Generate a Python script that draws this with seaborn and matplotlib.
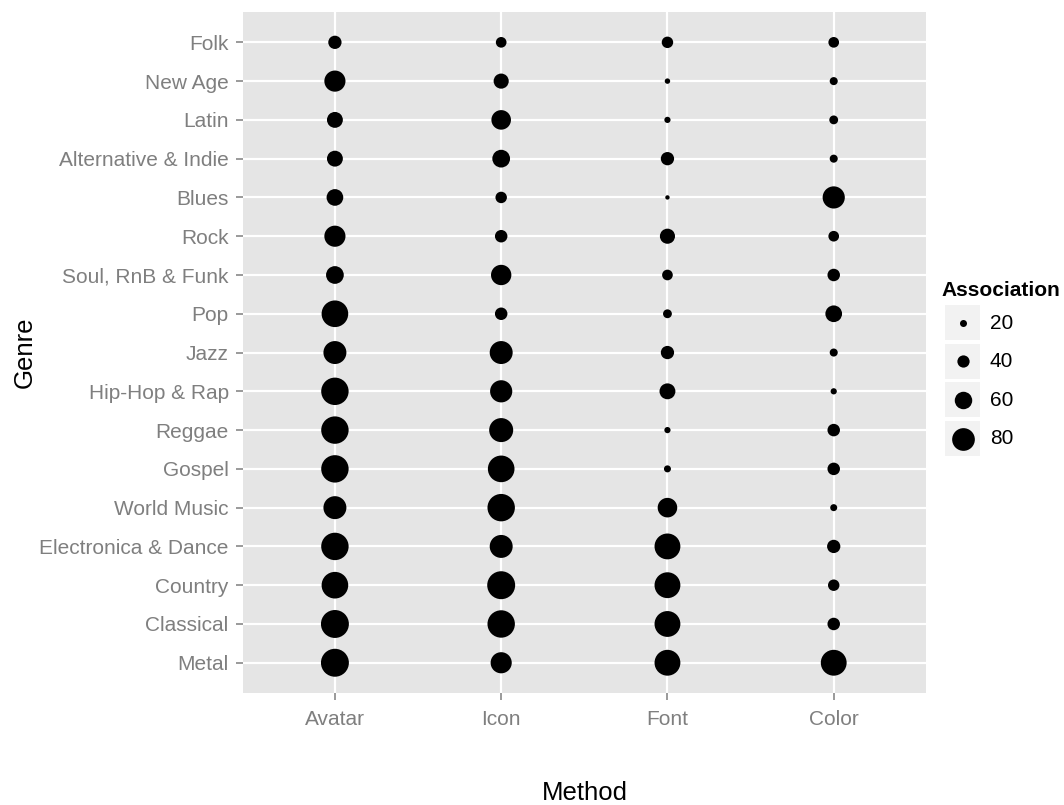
import numpy as np
import pandas as pd
import matplotlib
matplotlib.use("Agg")
import matplotlib.pyplot as plt
import seaborn as sns
from matplotlib.colors import FuncNorm
from matplotlib.patches import Rectangle

# ---------------- data ----------------
genres = ["Folk", "New Age", "Latin", "Alternative & Indie", "Blues", "Rock",
          "Soul, RnB & Funk", "Pop", "Jazz", "Hip-Hop & Rap", "Reggae", "Gospel",
          "World Music", "Electronica & Dance", "Country", "Classical", "Metal"]
methods = ["Avatar", "Icon", "Font", "Color"]
avatar = [44, 74, 54, 54, 57, 74, 61, 95, 81, 98, 98, 98, 81, 98, 95, 100, 100]
icon   = [34, 51, 68, 61, 37, 41, 71, 41, 81, 78, 85, 95, 98, 81, 100, 98, 74]
font   = [37, 14, 17, 44, 10, 51, 34, 27, 44, 54, 17, 20, 68, 92, 92, 92, 92]
color  = [34, 24, 27, 24, 78, 34, 41, 57, 24, 17, 41, 41, 20, 44, 37, 41, 92]
legend_breaks = [20, 40, 60, 80]

series = {"Avatar": avatar, "Icon": icon, "Font": font, "Color": color}
rows = []
for m in methods:
    for g, v in zip(genres, series[m]):
        rows.append({"Method": m, "Genre": g, "Association": v})
df = pd.DataFrame(rows)

# ---------------- style ----------------
plt.rcParams["font.family"] = ["Liberation Sans", "DejaVu Sans"]
TICK_GREY = "#7F7F7F"
PANEL = "#E5E5E5"

W, H = 1064, 805
fig = plt.figure(figsize=(W / 100, H / 100), dpi=100, facecolor="white")

# panel position in pixels
pl, pr, pt_, pb = 243.3, 926.0, 11.7, 693.0
ax = fig.add_axes([pl / W, 1 - pb / H, (pr - pl) / W, (pb - pt_) / H])
ax.set_facecolor(PANEL)

# size scale: diameter (px) linear in value, converted to points^2 area
def diam_px(v):
    return 1.766 + 0.2617 * np.asarray(v, dtype=float)

def area_pt(v):
    return (0.72 * diam_px(v)) ** 2

def inv_area(a):
    return (np.sqrt(np.asarray(a, dtype=float)) / 0.72 - 1.766) / 0.2617

vmin, vmax = 0.0, 110.0
norm = FuncNorm((area_pt, inv_area), vmin=vmin, vmax=vmax)

sns.scatterplot(data=df, x="Method", y="Genre", size="Association",
                sizes=(float(area_pt(vmin)), float(area_pt(vmax))), size_norm=norm,
                color="black", linewidth=0, legend=False, ax=ax, zorder=3)

ax.set_xlim(-0.551, 3.555)
ax.set_ylim(16.78, -0.79)

ax.set_axisbelow(True)
ax.grid(True, color="white", linewidth=1.6)
for s in ax.spines.values():
    s.set_visible(False)
ax.tick_params(length=5, width=1.1, color=TICK_GREY, labelcolor=TICK_GREY,
               labelsize=15)
ax.tick_params(axis="y", pad=5.5)
ax.tick_params(axis="x", pad=7)

ax.set_xlabel("Method", fontsize=18.5, color="black")
ax.set_ylabel("Genre", fontsize=18.5, color="black")
ax.xaxis.set_label_coords(0.5, (pb - 793) / (pb - pt_))
ax.xaxis.label.set_va("center")
ax.yaxis.set_label_coords((25 - pl) / (pr - pl), 0.5)
ax.yaxis.label.set_va("center")
ax.yaxis.label.set_ha("center")

# ---------------- legend (pixel-coordinate overlay) ----------------
lax = fig.add_axes([0, 0, 1, 1], facecolor="none")
lax.set_xlim(0, W)
lax.set_ylim(H, 0)
lax.axis("off")

lax.text(941.7, 290, "Association", fontsize=15, fontweight="bold",
         color="black", ha="left", va="center")
for i, b in enumerate(legend_breaks):
    cy = 323 + 38.5 * i
    lax.add_patch(Rectangle((945, cy - 17.5), 35, 35, facecolor="#F2F2F2",
                            edgecolor="none"))
    lax.scatter([962.5], [cy], s=[float(area_pt(b))], color="black",
                linewidths=0, zorder=3)
    lax.text(990, cy, str(b), fontsize=15, color="black", ha="left", va="center")

fig.savefig("out.png", dpi=100, facecolor="white")
